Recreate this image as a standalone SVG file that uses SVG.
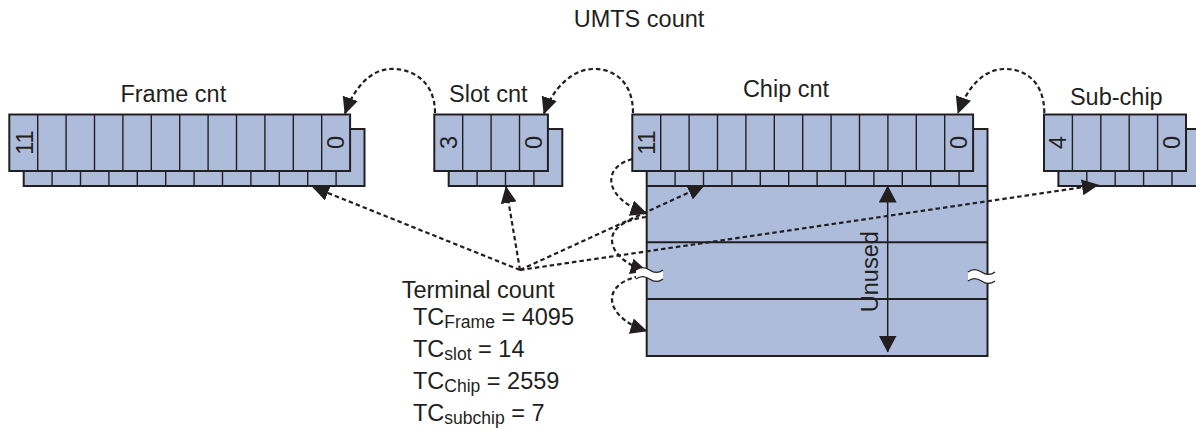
<svg xmlns="http://www.w3.org/2000/svg" width="1196" height="429" viewBox="0 0 1196 429">
<style>
.box{fill:#aebcdc;stroke:#231f20;stroke-width:2}
.dv{fill:none;stroke:#231f20;stroke-width:1.4}
.t{font-family:"Liberation Sans",Arial,Helvetica,sans-serif;font-size:23.5px;fill:#231f20}
.n{text-anchor:middle}
.dash{fill:none;stroke:#231f20;stroke-width:2.2;stroke-dasharray:4.5 3}
.brk{fill:#ffffff;stroke:none}
.wave{fill:none;stroke:#231f20;stroke-width:1.3}
</style>
<defs>
<marker id="ah" markerUnits="userSpaceOnUse" viewBox="0 0 17 16" refX="16" refY="8" markerWidth="17" markerHeight="16" orient="auto">
<path d="M0,0 L17,8 L0,16 Z" fill="#231f20"/>
</marker>
<marker id="ah2" markerUnits="userSpaceOnUse" viewBox="0 0 17 18" refX="16.5" refY="9" markerWidth="17" markerHeight="18" orient="auto-start-reverse">
<path d="M0,0 L17,9 L0,18 Z" fill="#231f20"/>
</marker>
<path id="brkshape" d="M0,2 C4,-1 9,-1 13.5,2 C18,5 23,5 27,2 L27,11 C23,14 18,14 13.5,11 C9,8 4,8 0,11 Z"/>
</defs>

<text class="t" x="639" y="27" text-anchor="middle">UMTS count</text>

<g id="frame">
<text class="t" x="173.3" y="101.7" text-anchor="middle">Frame cnt</text>
<rect class="box" x="23.7" y="129" width="340.8" height="57"/>
<path class="dv" d="M52.1,171V186M80.5,171V186M108.9,171V186M137.3,171V186M165.7,171V186M194.1,171V186M222.5,171V186M250.9,171V186M279.3,171V186M307.7,171V186M336.1,171V186"/>
<rect class="box" x="9.3" y="114.5" width="340.8" height="56.5"/>
<path class="dv" d="M37.7,114.5V171M66.1,114.5V171M94.5,114.5V171M122.9,114.5V171M151.3,114.5V171M179.7,114.5V171M208.1,114.5V171M236.5,114.5V171M264.9,114.5V171M293.3,114.5V171M321.7,114.5V171"/>
<text class="t n" transform="translate(32.5,142.5) rotate(-90)">11</text>
<text class="t n" transform="translate(344,142.5) rotate(-90)">0</text>
</g>

<g id="slot">
<text class="t" x="488.3" y="102" text-anchor="middle">Slot cnt</text>
<rect class="box" x="448.7" y="129" width="113.6" height="57"/>
<path class="dv" d="M477.1,171V186M505.5,171V186M533.9,171V186"/>
<rect class="box" x="434.3" y="114.5" width="113.6" height="56.5"/>
<path class="dv" d="M462.7,114.5V171M491.1,114.5V171M519.5,114.5V171"/>
<text class="t n" transform="translate(457,142.5) rotate(-90)">3</text>
<text class="t n" transform="translate(542,142.5) rotate(-90)">0</text>
</g>

<g id="chip">
<text class="t" x="786" y="97.3" text-anchor="middle">Chip cnt</text>
<rect class="box" x="646.7" y="129" width="340.8" height="227"/>
<path class="dv" d="M675.1,171V186M703.5,171V186M731.9,171V186M760.3,171V186M788.7,171V186M817.1,171V186M845.5,171V186M873.9,171V186M902.3,171V186M930.7,171V186M959.1,171V186"/>
<path class="box" d="M646.7,186H987.5M646.7,242.3H987.5M646.7,299H987.5" fill="none"/>
<rect class="box" x="632.3" y="114.5" width="340.8" height="56.5"/>
<path class="dv" d="M660.7,114.5V171M689.1,114.5V171M717.5,114.5V171M745.9,114.5V171M774.3,114.5V171M802.7,114.5V171M831.1,114.5V171M859.5,114.5V171M887.9,114.5V171M916.3,114.5V171M944.7,114.5V171"/>
<text class="t n" transform="translate(655,142.5) rotate(-90)">11</text>
<text class="t n" transform="translate(967,142.5) rotate(-90)">0</text>
</g>

<g id="subchip">
<text class="t" x="1116.3" y="105" text-anchor="middle">Sub-chip</text>
<rect class="box" x="1058.4" y="129" width="142" height="57"/>
<path class="dv" d="M1086.8,171V186M1115.2,171V186M1143.6,171V186M1172,171V186"/>
<rect class="box" x="1044" y="114.5" width="142" height="56.5"/>
<path class="dv" d="M1072.4,114.5V171M1100.8,114.5V171M1129.2,114.5V171M1157.6,114.5V171"/>
<text class="t n" transform="translate(1065.5,142.5) rotate(-90)">4</text>
<text class="t n" transform="translate(1179.5,142.5) rotate(-90)">0</text>
</g>

<g id="terminal">
<text class="t" x="401.7" y="298">Terminal count</text>
<text class="t" x="413" y="325">TC<tspan font-size="17.5" dy="3">Frame</tspan><tspan dy="-3"> = 4095</tspan></text>
<text class="t" x="413" y="357">TC<tspan font-size="17.5" dy="3">slot</tspan><tspan dy="-3"> = 14</tspan></text>
<text class="t" x="413" y="389">TC<tspan font-size="17.5" dy="3">Chip</tspan><tspan dy="-3"> = 2559</tspan></text>
<text class="t" x="413" y="421">TC<tspan font-size="17.5" dy="3">subchip</tspan><tspan dy="-3"> = 7</tspan></text>
</g>

<g id="connectors">
<path class="dash" marker-end="url(#ah)" d="M435,113 C435,78 408,68 390,69 C370,70 354,88 345,113.5"/>
<path class="dash" marker-end="url(#ah)" d="M633,113 C633,80 612,68 592,69 C572,70 553,88 544,113.5"/>
<path class="dash" marker-end="url(#ah)" d="M1044.3,113 C1044.3,80 1023,68 1003,69 C983,70 967,88 958,113"/>
<path class="dash" marker-end="url(#ah)" d="M520,270 L313,187"/>
<path class="dash" marker-end="url(#ah)" d="M520,270 L506,187"/>
<path class="dash" marker-end="url(#ah)" d="M520,270 L704,185.5"/>
<path class="dash" marker-end="url(#ah)" d="M520,270 L1098,185"/>
<path class="dash" marker-end="url(#ah)" d="M632.3,159 C600,168 605,199 646.5,213.5"/>
<path class="dash" marker-end="url(#ah)" d="M646.5,217 C598,222 603,258 646.5,271"/>
<path class="dash" marker-end="url(#ah)" d="M646.5,275 C598,281 603,317 646.5,331"/>
</g>

<g id="breaks">
<use href="#brkshape" class="brk" x="636" y="268"/>
<path class="wave" transform="translate(636,268)" d="M0,2 C4,-1 9,-1 13.5,2 C18,5 23,5 27,2 M0,11 C4,8 9,8 13.5,11 C18,14 23,14 27,11"/>
<use href="#brkshape" class="brk" x="968" y="270"/>
<path class="wave" transform="translate(968,270)" d="M0,2 C4,-1 9,-1 13.5,2 C18,5 23,5 27,2 M0,11 C4,8 9,8 13.5,11 C18,14 23,14 27,11"/>
</g>

<g id="unused">
<path d="M887.7,186 V352" stroke="#231f20" stroke-width="1.5" fill="none" marker-start="url(#ah2)" marker-end="url(#ah2)"/>
<text class="t n" transform="translate(878.3,271.7) rotate(-90)">Unused</text>
</g>
</svg>
